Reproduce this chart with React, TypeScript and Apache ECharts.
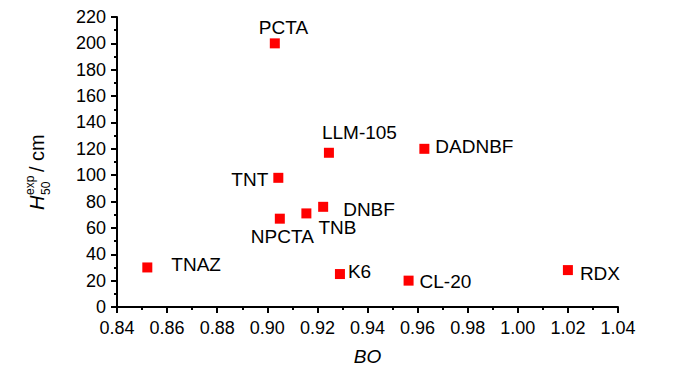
import React, { useEffect, useRef } from "react";
import * as echarts from "echarts";

const names = ["PCTA", "TNT", "LLM-105", "DADNBF", "DNBF", "TNB", "NPCTA", "TNAZ", "K6", "CL-20", "RDX"];
const bo = [0.903, 0.9044, 0.9246, 0.9627, 0.9223, 0.9156, 0.905, 0.8521, 0.929, 0.9564, 1.02];
const h50 = [200, 98, 117, 120, 76, 71, 67, 30, 25, 20, 28];
// label offsets: [left edge dx, center dy] relative to marker center
const labelDx = [-16, -47, -7, 11, 20, 12, -29, 24, 8, 11, 12];
const labelDy = [-16, 2, -20, -2, 3, 14, 18, -3, -3, 1, 3];

const FONT = "'Liberation Sans', Arial, sans-serif";
const FS = 18;

export default function App() {
  const ref = useRef<HTMLDivElement>(null);
  useEffect(() => {
    document.body.style.margin = "0";
    if (!ref.current) return;
    const chart = echarts.init(ref.current, undefined, { renderer: "svg" });
    const data = names.map((n, i) => ({
      value: [bo[i], h50[i]],
      name: n,
      label: {
        show: true,
        formatter: n,
        position: "inside",
        align: "left",
        verticalAlign: "middle",
        offset: [labelDx[i], labelDy[i]],
        color: "#000",
        fontSize: 19,
        fontFamily: FONT,
      },
    }));
    chart.setOption({
      animation: false,
      grid: { left: 117, right: 82, top: 17, bottom: 67 },
      xAxis: {
        type: "value",
        min: 0.84,
        max: 1.04,
        interval: 0.02,
        name: "BO",
        nameLocation: "middle",
        nameGap: 40,
        nameTextStyle: { fontStyle: "italic", fontSize: 19, fontFamily: FONT, color: "#000", verticalAlign: "top" },
        splitLine: { show: false },
        axisLine: { show: true, onZero: false, lineStyle: { color: "#000", width: 2 } },
        axisTick: { show: true, inside: false, length: 6, lineStyle: { color: "#000", width: 2 } },
        minorTick: { show: true, splitNumber: 2, length: 3, lineStyle: { color: "#000", width: 2 } },
        axisLabel: {
          margin: 12,
          color: "#000",
          fontSize: FS,
          fontFamily: FONT,
          formatter: (v: number) => v.toFixed(2),
        },
      },
      yAxis: {
        type: "value",
        min: 0,
        max: 220,
        interval: 20,
        splitLine: { show: false },
        axisLine: { show: true, onZero: false, lineStyle: { color: "#000", width: 2 } },
        axisTick: { show: true, inside: false, length: 6, lineStyle: { color: "#000", width: 2 } },
        minorTick: { show: true, splitNumber: 2, length: 3, lineStyle: { color: "#000", width: 2 } },
        axisLabel: { margin: 11, color: "#000", fontSize: FS, fontFamily: FONT },
      },
      graphic: [
        {
          type: "group",
          x: 47,
          y: 210,
          rotation: Math.PI / 2,
          children: [
            {
              type: "text",
              x: 0,
              y: 0,
              style: { text: "H", fontStyle: "italic", fontSize: 20, fontFamily: FONT, fill: "#000", verticalAlign: "bottom" },
            },
            {
              type: "text",
              x: 15,
              y: -11,
              style: { text: "exp", fontSize: 12, fontFamily: FONT, fill: "#000", verticalAlign: "bottom" },
            },
            {
              type: "text",
              x: 15,
              y: 5,
              style: { text: "50", fontSize: 12, fontFamily: FONT, fill: "#000", verticalAlign: "bottom" },
            },
            {
              type: "text",
              x: 38,
              y: 0,
              style: { text: "/ cm", fontSize: 20, fontFamily: FONT, fill: "#000", verticalAlign: "bottom" },
            },
          ],
        },
      ],
      series: [
        {
          type: "scatter",
          symbol: "rect",
          symbolSize: 10,
          itemStyle: { color: "#ff0000", opacity: 1 },
          data,
        },
      ],
    });
    return () => chart.dispose();
  }, []);
  return <div ref={ref} style={{ width: 700, height: 374 }} />;
}
